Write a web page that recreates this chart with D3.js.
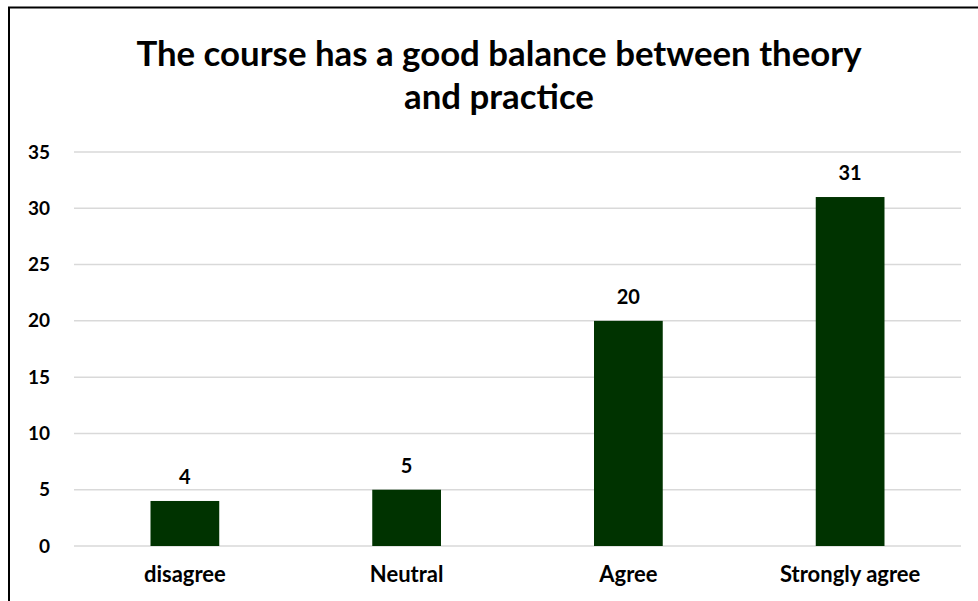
<!DOCTYPE html>
<html lang="en">
    <head>
        <meta charset="utf-8">
        <title>Course balance</title>
        <script type="text/javascript" src="https://d3js.org/d3.v7.min.js"></script>
        <style type="text/css">
          body {
            margin: 0;
            background: white;
          }
          .axis text {
            font-family: Lato, "Open Sans", sans-serif;
            font-weight: bold;
            fill: black;
          }
          .grid line {
            stroke: #d9d9d9;
            stroke-width: 1.5;
          }
          .bar {
            fill: #003300;
          }
          .label {
            font-family: Lato, "Open Sans", sans-serif;
            font-weight: bold;
            font-size: 20px;
          }
          .title {
            font-family: Lato, "Open Sans", sans-serif;
            font-weight: bold;
            font-size: 34.8px;
          }
        </style>
    </head>
    <body>
        <script type="text/javascript">
          // Chart data
          var categories = ["disagree", "Neutral", "Agree", "Strongly agree"];
          var counts = [4, 5, 20, 31];
          var yTicks = [0, 5, 10, 15, 20, 25, 30, 35];
          var titleLines = ["The course has a good balance between theory", "and practice"];

          var w = 978;
          var h = 601;
          var marginLeft = 74;
          var marginRight = 17;
          var marginTop = 152;
          var plotBottom = 546;

          var svg = d3.select("body").append("svg")
                      .attr("width", w)
                      .attr("height", h);

          // outer frame of the chart area
          svg.append("rect")
             .attr("x", 9)
             .attr("y", 7.5)
             .attr("width", w + 10)
             .attr("height", h + 10)
             .attr("fill", "white")
             .attr("stroke", "black")
             .attr("stroke-width", 2);

          var xScale = d3.scaleBand()
                         .domain(categories)
                         .range([marginLeft, w - marginRight])
                         .paddingInner(0.69)
                         .paddingOuter(0.345);

          var yScale = d3.scaleLinear()
                         .domain([0, 35])
                         .range([plotBottom, marginTop]);

          // gridlines
          svg.append("g")
             .attr("class", "grid")
             .selectAll("line")
             .data(yTicks)
             .enter()
             .append("line")
             .attr("x1", marginLeft)
             .attr("x2", w - marginRight)
             .attr("y1", function(d) { return yScale(d); })
             .attr("y2", function(d) { return yScale(d); });

          // y axis labels
          var yAxis = d3.axisLeft(yScale).tickValues(yTicks).tickSize(0).tickPadding(0);
          svg.append("g")
             .attr("class", "axis")
             .attr("transform", "translate(50,0)")
             .call(yAxis)
             .call(function(g) { g.select(".domain").remove(); })
             .selectAll("text")
             .style("font-size", "19px");

          // x axis labels
          var xAxis = d3.axisBottom(xScale).tickSize(0).tickPadding(0);
          svg.append("g")
             .attr("class", "axis")
             .attr("transform", "translate(0," + (plotBottom + 20) + ")")
             .call(xAxis)
             .call(function(g) { g.select(".domain").remove(); })
             .selectAll("text")
             .style("font-size", "22px");

          // bars
          svg.selectAll(".bar")
             .data(counts)
             .enter()
             .append("rect")
             .attr("class", "bar")
             .attr("x", function(d, i) { return xScale(categories[i]); })
             .attr("y", function(d) { return yScale(d); })
             .attr("width", xScale.bandwidth())
             .attr("height", function(d) { return plotBottom - yScale(d); });

          // value labels
          svg.selectAll(".label")
             .data(counts)
             .enter()
             .append("text")
             .attr("class", "label")
             .attr("text-anchor", "middle")
             .attr("x", function(d, i) { return xScale(categories[i]) + xScale.bandwidth() / 2; })
             .attr("y", function(d) { return yScale(d) - 17; })
             .text(function(d) { return d; });

          // title
          svg.append("text")
             .attr("class", "title")
             .attr("text-anchor", "middle")
             .selectAll("tspan")
             .data(titleLines)
             .enter()
             .append("tspan")
             .attr("x", 499)
             .attr("y", function(d, i) { return 66 + i * 43; })
             .text(function(d) { return d; });
        </script>
    </body>
</html>
